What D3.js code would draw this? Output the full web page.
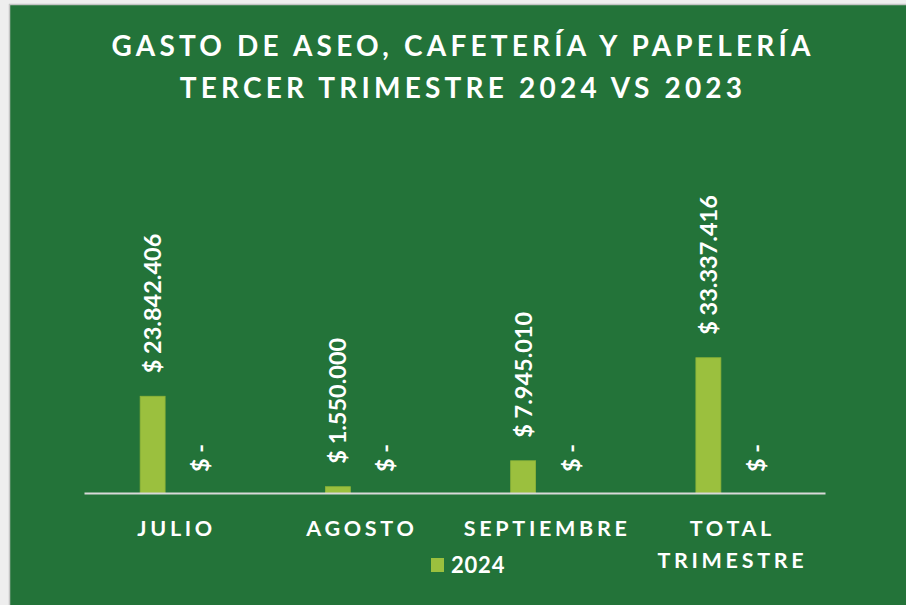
<!DOCTYPE html>
<html>
<head>
<meta charset="utf-8">
<script src="https://cdn.jsdelivr.net/npm/d3@7"></script>
<style>
  body { margin: 0; background: #eeeeee; }
  svg { display: block; }
</style>
</head>
<body>
<script>
// datos del grafico
var categories = ["JULIO", "AGOSTO", "SEPTIEMBRE", "TOTAL TRIMESTRE"];
var series = ["2024", "2023"];
var values2024 = [23842406, 1550000, 7945010, 33337416];
var values2023 = [0, 0, 0, 0];
var titleLines = ["GASTO DE ASEO, CAFETERÍA Y PAPELERÍA", "TERCER TRIMESTRE 2024 VS 2023"];
var legendItems = ["2024"];

var W = 906, H = 605;
var green = "#237339", barColor = "#9bc03e";

var loc = d3.formatLocale({decimal: ",", thousands: ".", grouping: [3], currency: ["$ ", ""]});
var fmt = loc.format("$,.0f");
function label(v) { return v === 0 ? "$ -" : fmt(v); }

var svg = d3.select("body").append("svg")
    .attr("width", W)
    .attr("height", H);

svg.append("rect")
    .attr("x", 0).attr("y", 0).attr("width", W).attr("height", H)
    .attr("fill", "#eeeeee");

svg.append("rect")
    .attr("x", 9.5).attr("y", 4.5).attr("width", W).attr("height", H)
    .attr("fill", green)
    .attr("stroke", "#c4c4c4")
    .attr("stroke-width", 1.5);

// titulo
svg.selectAll("text.title")
    .data(titleLines)
    .enter().append("text")
    .attr("class", "title")
    .attr("x", 463)
    .attr("y", function(d, i) { return 56 + i * 42; })
    .attr("text-anchor", "middle")
    .style("font-family", "Lato, 'Open Sans', sans-serif")
    .style("font-weight", "bold")
    .style("font-size", "28px")
    .style("letter-spacing", "4.2px")
    .attr("fill", "#ffffff")
    .text(function(d) { return d; });

var x0 = d3.scaleBand()
    .domain(categories)
    .range([84, 825]);

var x1 = d3.scaleBand()
    .domain(series)
    .range([0, x0.bandwidth()])
    .paddingInner(0.48)
    .paddingOuter(1.17);

var y = d3.scaleLinear()
    .domain([0, 40000000])
    .range([493, 330.7]);

var rows = categories.map(function(c, i) {
    return {cat: c, vals: [
        {s: "2024", v: values2024[i]},
        {s: "2023", v: values2023[i]}
    ]};
});

var groups = svg.selectAll("g.cat")
    .data(rows)
    .enter().append("g")
    .attr("class", "cat")
    .attr("transform", function(d) { return "translate(" + x0(d.cat) + ",0)"; });

groups.selectAll("rect")
    .data(function(d) { return d.vals.filter(function(e) { return e.s === "2024"; }); })
    .enter().append("rect")
    .attr("x", function(d) { return x1(d.s); })
    .attr("y", function(d) { return y(d.v); })
    .attr("width", x1.bandwidth())
    .attr("height", function(d) { return y(0) - y(d.v); })
    .attr("fill", barColor)
    .attr("stroke", "#8db338")
    .attr("stroke-width", 0.8);

groups.selectAll("text.val")
    .data(function(d) { return d.vals; })
    .enter().append("text")
    .attr("class", "val")
    .attr("transform", function(d) {
        var cx = x1(d.s) + x1.bandwidth() / 2;
        var cy = y(d.v) - (d.v === 0 ? 21 : 23);
        return "translate(" + cx + "," + cy + ") rotate(-90)";
    })
    .attr("dy", "0.36em")
    .attr("text-anchor", "start")
    .style("font-family", "Lato, 'Open Sans', sans-serif")
    .style("font-weight", "bold")
    .style("font-size", "23.5px")
    .attr("fill", "#ffffff")
    .text(function(d) { return label(d.v); });

// eje x
var xAxis = d3.axisBottom(x0).tickSize(0).tickSizeOuter(0);
var gx = svg.append("g")
    .attr("transform", "translate(0,493)")
    .call(xAxis);

gx.select(".domain")
    .attr("stroke", "#d9d9d9")
    .attr("stroke-width", 2.2);

gx.selectAll(".tick text").each(function(d) {
    var t = d3.select(this);
    var words = d.split(" ");
    t.text(null)
        .attr("y", 43)
        .attr("dy", null)
        .attr("fill", "#ffffff")
        .style("font-family", "Lato, 'Open Sans', sans-serif")
        .style("font-weight", "bold")
        .style("font-size", "21.5px")
        .style("letter-spacing", "3.7px");
    words.forEach(function(w, i) {
        t.append("tspan")
            .attr("x", 0)
            .attr("y", 43 + i * 32)
            .text(w);
    });
});

// leyenda
var lg = svg.append("g").attr("transform", "translate(431,558)");
lg.selectAll("rect")
    .data(legendItems)
    .enter().append("rect")
    .attr("width", 13).attr("height", 14)
    .attr("fill", barColor);
lg.selectAll("text")
    .data(legendItems)
    .enter().append("text")
    .attr("x", 20).attr("y", 15)
    .attr("fill", "#ffffff")
    .style("font-family", "Lato, 'Open Sans', sans-serif")
    .style("font-weight", "bold")
    .style("font-size", "22px")
    .style("letter-spacing", "0.8px")
    .text(function(d) { return d; });
</script>
</body>
</html>
